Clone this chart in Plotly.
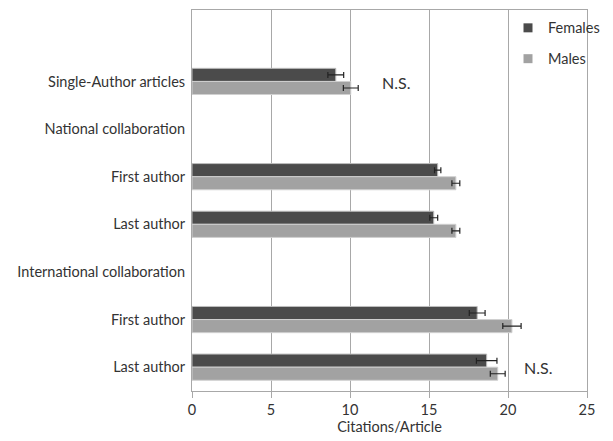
import plotly.graph_objects as go

categories = ["Single-Author articles", "National collaboration", "First author", "Last author",
              "International collaboration", "First author", "Last author"]
females = [9.1, None, 15.55, 15.3, None, 18.05, 18.65]
females_err = [0.5, None, 0.2, 0.25, None, 0.5, 0.65]
males = [10.05, None, 16.7, 16.7, None, 20.25, 19.35]
males_err = [0.47, None, 0.25, 0.25, None, 0.58, 0.47]
x_ticks = [0, 5, 10, 15, 20, 25]

ypos = list(range(len(categories)))
FONT = "Lato"
FS = 14.5
F_COL = "#4b4b4b"
M_COL = "#a2a2a2"

fig = go.Figure()
fig.add_trace(go.Bar(
    y=ypos, x=females, orientation="h", name="Females", showlegend=False,
    marker=dict(color=F_COL, line=dict(color="#bdbdbd", width=1)),
    error_x=dict(type="data", array=females_err, color="#222", thickness=1.2, width=3),
))
fig.add_trace(go.Bar(
    y=ypos, x=males, orientation="h", name="Males", showlegend=False,
    marker=dict(color=M_COL, line=dict(color="#d0d0d0", width=1)),
    error_x=dict(type="data", array=males_err, color="#222", thickness=1.2, width=3),
))
# legend entries (square swatches)
for nm, col, grp in [("Females", F_COL, "f"), ("Males", M_COL, "m")]:
    fig.add_trace(go.Scatter(
        x=[None], y=[None], mode="markers", name=nm, legendgroup=grp,
        marker=dict(symbol="square", size=9, color=col),
    ))

fig.update_layout(
    width=613, height=441, autosize=False,
    margin=dict(l=192, r=8, t=10, b=50),
    paper_bgcolor="white", plot_bgcolor="white",
    barmode="group", bargap=0.45, bargroupgap=0,
    font=dict(family=FONT, size=FS, color="#333"),
    legend=dict(x=0.8, y=0.995, xanchor="left", yanchor="top",
                traceorder="grouped", tracegroupgap=9,
                font=dict(family=FONT, size=FS, color="#333"),
                itemwidth=30, bgcolor="rgba(0,0,0,0)"),
    showlegend=True,
)
fig.update_xaxes(
    range=[0, 25], tickvals=x_ticks, showgrid=True, gridcolor="#a8a8a8", gridwidth=1,
    showline=True, linecolor="#a8a8a8", linewidth=1, mirror=True,
    ticks="outside", ticklen=6, tickcolor="#a8a8a8", zeroline=False,
    title=dict(text="Citations/Article", font=dict(size=FS, color="#333"), standoff=1),
    tickfont=dict(size=FS, color="#333"), automargin=False,
)
fig.update_yaxes(
    range=[6.5, -1.5], tickvals=ypos, ticktext=categories, showgrid=False,
    showline=True, linecolor="#a8a8a8", linewidth=1, mirror=True,
    ticks="", ticklabelstandoff=3, zeroline=False,
    tickfont=dict(size=FS, color="#333"), automargin=False,
)
fig.add_annotation(x=12.9, y=0.03, text="N.S.", showarrow=False,
                   font=dict(family=FONT, size=16, color="#333"))
fig.add_annotation(x=21.9, y=6, text="N.S.", showarrow=False,
                   font=dict(family=FONT, size=16, color="#333"))

post = (
    "document.documentElement.style.overflow='hidden';"
    "document.documentElement.style.margin='0';"
    "document.body.style.margin='0';"
    "document.body.style.overflow='hidden';"
    "var gd=document.getElementById('{plot_id}');"
    "gd.style.width='613px';gd.style.maxWidth='none';gd.style.height='441px';"
    "Plotly.relayout(gd,{width:613,height:441});"
)
fig.write_html("out.html", config={"responsive": False, "displayModeBar": False},
               post_script=post)
